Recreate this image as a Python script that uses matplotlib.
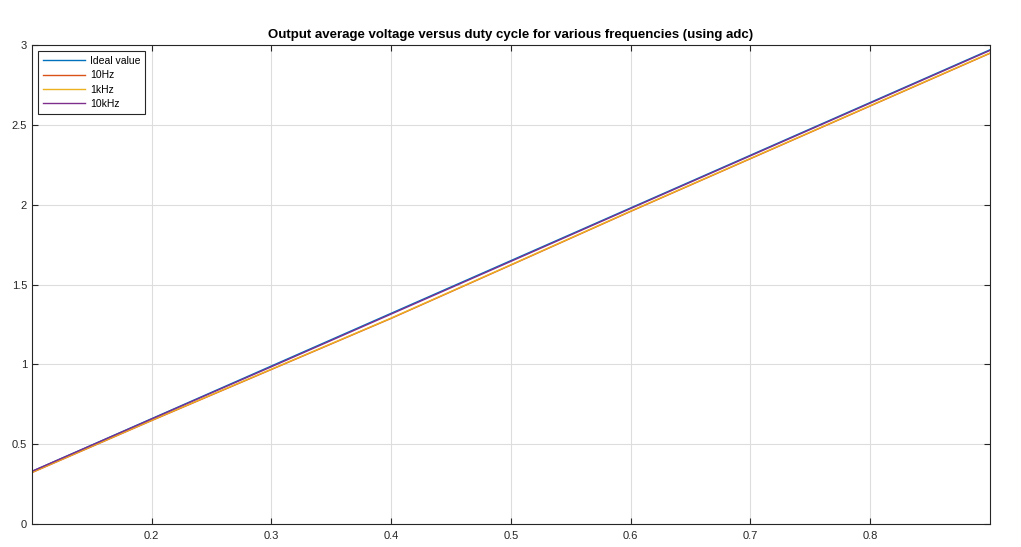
import matplotlib
matplotlib.use("Agg")
import matplotlib.pyplot as plt

# Duty cycles and measured average output voltages (V)
duty = [0.1, 0.2, 0.3, 0.4, 0.5, 0.6, 0.7, 0.8, 0.9]
ideal = [0.33, 0.66, 0.99, 1.32, 1.65, 1.98, 2.31, 2.64, 2.97]
v_10hz = [0.322, 0.648, 0.968, 1.288, 1.622, 1.958, 2.288, 2.618, 2.948]
v_1khz = [0.324, 0.650, 0.970, 1.290, 1.624, 1.960, 2.290, 2.620, 2.950]
v_10khz = [0.330, 0.658, 0.985, 1.315, 1.645, 1.976, 2.306, 2.636, 2.966]

series = [
    ("Ideal value", ideal, "#0072BD"),
    ("10Hz", v_10hz, "#D95319"),
    ("1kHz", v_1khz, "#EDB120"),
    ("10kHz", v_10khz, "#7E2F8E"),
]

plt.rcParams['font.family'] = ['Liberation Sans', 'DejaVu Sans']

fig = plt.figure(figsize=(10.21, 5.47), dpi=100)
ax = fig.add_axes([0.0313, 0.042, 0.9383, 0.8757])

for label, vals, color in series:
    ax.plot(duty, vals, color=color, linewidth=1.0, label=label)

ax.set_xlim(0.1, 0.9)
ax.set_ylim(0, 3)
ax.set_xticks([0.2, 0.3, 0.4, 0.5, 0.6, 0.7, 0.8])
ax.set_xticklabels(["0.2", "0.3", "0.4", "0.5", "0.6", "0.7", "0.8"])
ax.set_yticks([0, 0.5, 1, 1.5, 2, 2.5, 3])
ax.set_yticklabels(["0", "0.5", "1", "1.5", "2", "2.5", "3"])
ax.tick_params(direction='in', length=4, labelsize=8, colors='#262626',
               top=True, right=True)
ax.tick_params(axis='x', pad=5)
ax.grid(True, color='#dddddd', linewidth=0.8)
ax.set_axisbelow(True)
for sp in ax.spines.values():
    sp.set_color('#262626')
    sp.set_linewidth(0.8)

ax.set_title("Output average voltage versus duty cycle for various frequencies (using adc)",
             fontsize=9.5, fontweight='bold', pad=5)

leg = ax.legend(loc='upper left', fontsize=7.5, fancybox=False, framealpha=1,
                edgecolor='#262626', handlelength=4.0, handletextpad=0.5,
                borderaxespad=0.6, labelspacing=0.42, borderpad=0.45)
leg.get_frame().set_linewidth(0.8)

plt.savefig("out.png", dpi=100)
